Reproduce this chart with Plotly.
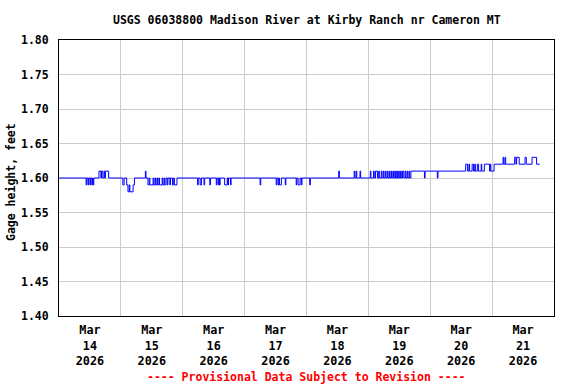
import plotly.graph_objects as go

# Step-change record of gage height (feet): each value holds from its time until the next
change_times = [
    "2026-03-14 00:00",
    "2026-03-14 10:30", "2026-03-14 10:45", "2026-03-14 11:15", "2026-03-14 11:30",
    "2026-03-14 12:00", "2026-03-14 12:15", "2026-03-14 12:45", "2026-03-14 13:00",
    "2026-03-14 13:15", "2026-03-14 13:30",
    "2026-03-14 15:30", "2026-03-14 16:15", "2026-03-14 16:30", "2026-03-14 17:00",
    "2026-03-14 17:30", "2026-03-14 17:45", "2026-03-14 18:00", "2026-03-14 19:15",
    "2026-03-15 00:45", "2026-03-15 01:15", "2026-03-15 02:15", "2026-03-15 02:45",
    "2026-03-15 03:15", "2026-03-15 03:30", "2026-03-15 04:45", "2026-03-15 05:15",
    "2026-03-15 09:30", "2026-03-15 09:45",
    "2026-03-15 10:30", "2026-03-15 11:00", "2026-03-15 11:15", "2026-03-15 12:30",
    "2026-03-15 12:45", "2026-03-15 13:15", "2026-03-15 13:30", "2026-03-15 14:00",
    "2026-03-15 14:15", "2026-03-15 14:45", "2026-03-15 15:00", "2026-03-15 16:00",
    "2026-03-15 16:15", "2026-03-15 16:45", "2026-03-15 17:00", "2026-03-15 17:30",
    "2026-03-15 18:00", "2026-03-15 18:15", "2026-03-15 19:00", "2026-03-15 19:15",
    "2026-03-15 20:00", "2026-03-15 20:30", "2026-03-15 20:45", "2026-03-15 21:45",
    "2026-03-16 05:45", "2026-03-16 06:00", "2026-03-16 06:45", "2026-03-16 07:15",
    "2026-03-16 08:15", "2026-03-16 08:30", "2026-03-16 10:30", "2026-03-16 10:45",
    "2026-03-16 13:00", "2026-03-16 13:15", "2026-03-16 13:45", "2026-03-16 14:00",
    "2026-03-16 14:15", "2026-03-16 14:30", "2026-03-16 16:15", "2026-03-16 17:15",
    "2026-03-16 17:30", "2026-03-16 17:45", "2026-03-16 18:30", "2026-03-16 18:45",
    "2026-03-17 06:00", "2026-03-17 06:15",
    "2026-03-17 12:15", "2026-03-17 12:30", "2026-03-17 13:00", "2026-03-17 13:15",
    "2026-03-17 13:30", "2026-03-17 14:15", "2026-03-17 15:45", "2026-03-17 16:00",
    "2026-03-17 20:00", "2026-03-17 20:15", "2026-03-17 20:45", "2026-03-17 21:30",
    "2026-03-17 22:00", "2026-03-17 22:15",
    "2026-03-18 01:15", "2026-03-18 01:30",
    "2026-03-18 12:30", "2026-03-18 12:45",
    "2026-03-18 18:30", "2026-03-18 18:45", "2026-03-18 19:15", "2026-03-18 19:30",
    "2026-03-18 20:45", "2026-03-18 21:00",
    "2026-03-19 00:45", "2026-03-19 01:00", "2026-03-19 02:00", "2026-03-19 02:15",
    "2026-03-19 02:45", "2026-03-19 03:30", "2026-03-19 04:00", "2026-03-19 04:15",
    "2026-03-19 05:00", "2026-03-19 05:15", "2026-03-19 05:45", "2026-03-19 06:00",
    "2026-03-19 06:30", "2026-03-19 06:45", "2026-03-19 07:15", "2026-03-19 07:30",
    "2026-03-19 08:00", "2026-03-19 08:15", "2026-03-19 08:45", "2026-03-19 09:00",
    "2026-03-19 09:30", "2026-03-19 09:45", "2026-03-19 10:15", "2026-03-19 10:30",
    "2026-03-19 11:00", "2026-03-19 11:15", "2026-03-19 11:45", "2026-03-19 12:00",
    "2026-03-19 12:30", "2026-03-19 12:45", "2026-03-19 13:15", "2026-03-19 13:45",
    "2026-03-19 14:15", "2026-03-19 14:30", "2026-03-19 15:00", "2026-03-19 15:15",
    "2026-03-19 15:45", "2026-03-19 16:00", "2026-03-19 16:30",
    "2026-03-19 21:45", "2026-03-19 22:00",
    "2026-03-20 02:45", "2026-03-20 03:00",
    "2026-03-20 13:45", "2026-03-20 14:30", "2026-03-20 15:00", "2026-03-20 15:15",
    "2026-03-20 16:15", "2026-03-20 16:45", "2026-03-20 17:15", "2026-03-20 17:30",
    "2026-03-20 18:15", "2026-03-20 18:45", "2026-03-20 19:45", "2026-03-20 20:00",
    "2026-03-20 21:00",
    "2026-03-20 23:00", "2026-03-20 23:15", "2026-03-20 23:30", "2026-03-21 00:45",
    "2026-03-21 04:15", "2026-03-21 04:30", "2026-03-21 05:00", "2026-03-21 05:15",
    "2026-03-21 08:45", "2026-03-21 09:15", "2026-03-21 09:30", "2026-03-21 10:30",
    "2026-03-21 12:45", "2026-03-21 13:15", "2026-03-21 15:30", "2026-03-21 17:15",
    "2026-03-21 18:30",
]

gage_ft = [
    1.60,
    1.59, 1.60, 1.59, 1.60,
    1.59, 1.60, 1.59, 1.60,
    1.59, 1.60,
    1.61, 1.60, 1.61, 1.60,
    1.61, 1.60, 1.61, 1.60,
    1.59, 1.60, 1.59, 1.58,
    1.59, 1.58, 1.59, 1.60,
    1.61, 1.60,
    1.59, 1.60, 1.59, 1.60,
    1.59, 1.60, 1.59, 1.60,
    1.59, 1.60, 1.59, 1.60,
    1.59, 1.60, 1.59, 1.60,
    1.59, 1.60, 1.59, 1.60,
    1.59, 1.60, 1.59, 1.60,
    1.59, 1.60, 1.59, 1.60,
    1.59, 1.60, 1.59, 1.60,
    1.59, 1.60, 1.59, 1.60,
    1.59, 1.60, 1.59, 1.60,
    1.59, 1.60, 1.59, 1.60,
    1.59, 1.60,
    1.59, 1.60, 1.59, 1.60,
    1.59, 1.60, 1.59, 1.60,
    1.59, 1.60, 1.59, 1.60,
    1.59, 1.60,
    1.59, 1.60,
    1.61, 1.60,
    1.61, 1.60, 1.61, 1.60,
    1.61, 1.60,
    1.61, 1.60, 1.61, 1.60,
    1.61, 1.60, 1.61, 1.60,
    1.61, 1.60, 1.61, 1.60,
    1.61, 1.60, 1.61, 1.60,
    1.61, 1.60, 1.61, 1.60,
    1.61, 1.60, 1.61, 1.60,
    1.61, 1.60, 1.61, 1.60,
    1.61, 1.60, 1.61, 1.60,
    1.61, 1.60, 1.61, 1.60,
    1.61, 1.60, 1.61,
    1.60, 1.61,
    1.60, 1.61,
    1.62, 1.61, 1.62, 1.61,
    1.62, 1.61, 1.62, 1.61,
    1.62, 1.61, 1.62, 1.61,
    1.62,
    1.61, 1.62, 1.61, 1.62,
    1.63, 1.62, 1.63, 1.62,
    1.63, 1.62, 1.63, 1.62,
    1.63, 1.62, 1.63, 1.62,
    1.62,
]

day_ticks = ["2026-03-%02d 12:00" % d for d in range(14, 22)]
day_labels = ["Mar<br>%d<br>2026" % d for d in range(14, 22)]
midnights = ["2026-03-%02d 00:00" % d for d in range(15, 22)]
y_ticks = [1.40, 1.45, 1.50, 1.55, 1.60, 1.65, 1.70, 1.75, 1.80]

FONT = "DejaVu Sans Mono"

fig = go.Figure()
fig.add_trace(go.Scatter(
    x=change_times, y=gage_ft, mode="lines",
    line=dict(color="#0000FF", width=1, shape="hv"),
    hoverinfo="x+y", showlegend=False,
))

fig.update_layout(
    width=576, height=384,
    margin=dict(l=59, r=22, t=40, b=68),
    paper_bgcolor="white", plot_bgcolor="white",
    font=dict(family=FONT, size=11.5, color="black", weight="bold"),
    xaxis=dict(
        type="date", automargin=False,
        range=["2026-03-14 00:00", "2026-03-22 00:00"],
        tickmode="array", tickvals=day_ticks, ticktext=day_labels,
        showgrid=False, zeroline=False,
        showline=True, linecolor="black", linewidth=1, mirror=True,
        ticks="outside", ticklen=3, tickcolor="rgba(0,0,0,0)",
        tickfont=dict(family=FONT, size=11.8, weight="bold"),
        minor=dict(tickmode="array", tickvals=midnights, showgrid=True,
                   gridcolor="#cccccc", gridwidth=1, ticks=""),
    ),
    yaxis=dict(
        automargin=False,
        range=[1.40, 1.80],
        tickmode="array", tickvals=y_ticks, tickformat=".2f",
        showgrid=True, gridcolor="#cccccc", gridwidth=1, zeroline=False,
        showline=True, linecolor="black", linewidth=1, mirror=True,
        ticks="outside", ticklen=7, tickcolor="rgba(0,0,0,0)",
        tickfont=dict(family=FONT, size=11.5, weight="bold"),
    ),
    annotations=[
        dict(text="USGS 06038800 Madison River at Kirby Ranch nr Cameron MT",
             xref="paper", yref="paper", x=0.5, y=(316 - 20) / 276,
             xanchor="center", yanchor="middle", showarrow=False,
             font=dict(family=FONT, size=11.5, weight="bold", color="black")),
        dict(text="Gage height, feet", textangle=-90,
             xref="paper", yref="paper", x=(11 - 59) / 495, y=(316 - 182) / 276,
             xanchor="center", yanchor="middle", showarrow=False,
             font=dict(family=FONT, size=11.5, weight="bold", color="black")),
        dict(text="---- Provisional Data Subject to Revision ----",
             xref="paper", yref="paper", x=0.5, y=(316 - 377) / 276,
             xanchor="center", yanchor="middle", showarrow=False,
             font=dict(family=FONT, size=11.5, weight="bold", color="red")),
    ],
)

fig.write_html(
    "out.html",
    config={"displayModeBar": False},
    post_script="document.body.style.margin='0';document.body.style.overflow='hidden';",
)
